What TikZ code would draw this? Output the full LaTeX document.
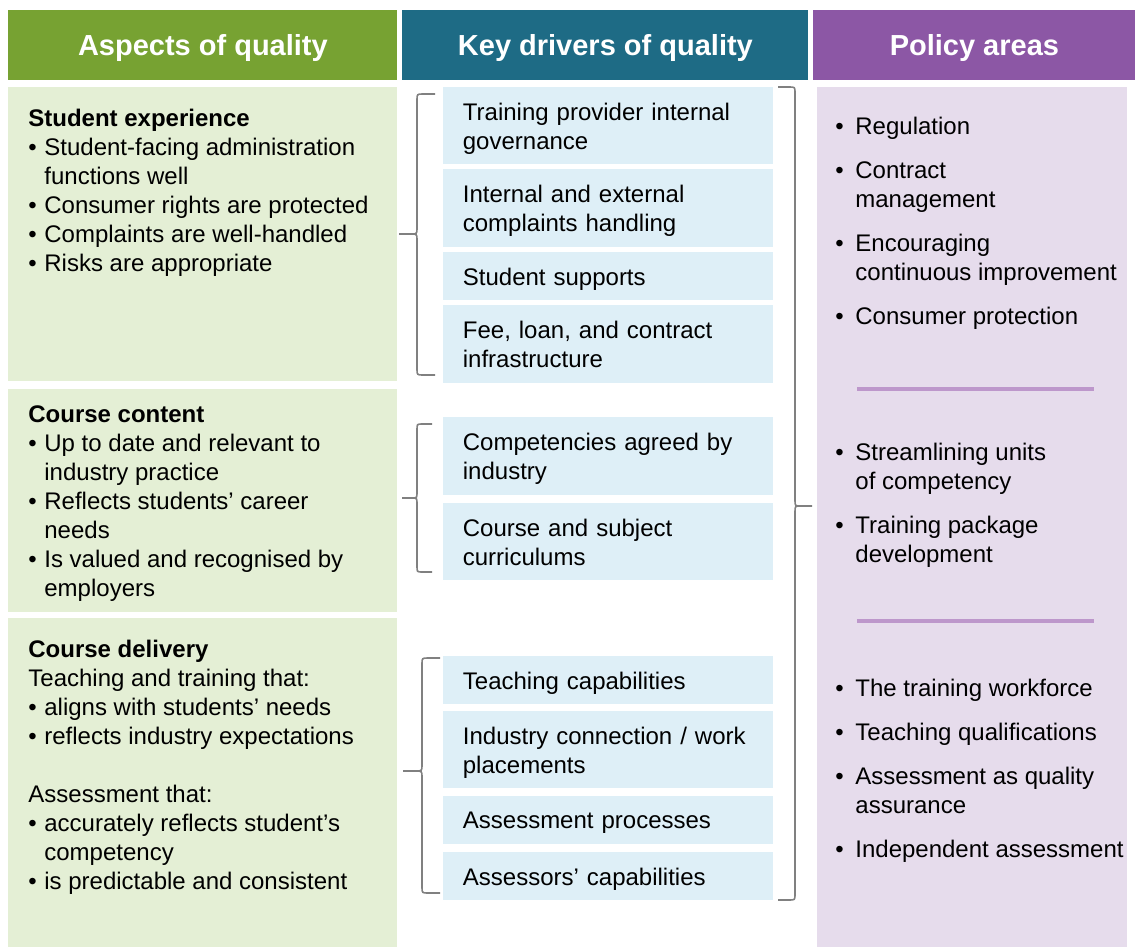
\documentclass[tikz,border=0pt]{standalone}
\usepackage{fontspec}
\setmainfont{Liberation Sans}
\usetikzlibrary{fit}
\definecolor{aspgreen}{HTML}{77A232}
\definecolor{aspfill}{HTML}{E4EFD5}
\definecolor{drvblue}{HTML}{1E6B85}
\definecolor{drvfill}{HTML}{DEEFF7}
\definecolor{polpurple}{HTML}{8C57A5}
\definecolor{polfill}{HTML}{E6DCEC}
\definecolor{polrule}{HTML}{BD97CB}
\definecolor{bracegrey}{HTML}{808080}
\newcommand{\bodyfont}{\fontsize{12}{14.5}\selectfont}
\newcommand{\bul}{\makebox[8pt][l]{\textbullet}}
\newcommand{\ind}{\hspace*{8pt}}
\newcommand{\pbul}{\makebox[10pt][l]{\textbullet}}
\newcommand{\pind}{\hspace*{10pt}}
% ends x, spine x, tip x, top y, tip y, bottom y
\newcommand{\grpbrace}[6]{%
  \draw[brc] (#1,#4) -- ({#2+0.35*(#1-#2)},#4)
    .. controls (#2,#4) .. (#2,{#4+6}) -- (#2,{#5-6})
    .. controls (#2,#5) .. ({#2+0.35*(#3-#2)},#5) -- (#3,#5)
    ({#2+0.35*(#3-#2)},#5) .. controls (#2,#5) .. (#2,{#5+6})
    -- (#2,{#6-6}) .. controls (#2,#6) .. ({#2+0.35*(#1-#2)},#6) -- (#1,#6);}

\begin{document}
\begin{tikzpicture}[x=0.5pt,y=-0.5pt,
  hdr/.style={anchor=north west,inner sep=0,minimum height=35pt,text depth=0pt,
    text=white,font=\bfseries\fontsize{14.5}{17}\selectfont},
  drv/.style={anchor=north west,fill=drvfill,inner xsep=9.75pt,inner ysep=0,
    text width=145.5pt,align=left,font=\bodyfont},
  txt/.style={anchor=north west,inner sep=0,align=left,font=\bodyfont},
  brc/.style={draw=bracegrey,line width=0.8pt},
  rule/.style={draw=polrule,line width=2pt}]
  \useasboundingbox (0,0) rectangle (1135,947);

  % column heads
  \node[hdr,fill=aspgreen,minimum width=194.5pt] (hasp) at (8,10) {Aspects of quality};
  \node[hdr,fill=drvblue,minimum width=203pt] (hdrv) at (402,10) {Key drivers of quality};
  \node[hdr,fill=polpurple,minimum width=161pt] (hpol) at (813,10) {Policy areas};

  % aspects
  \node[fill=aspfill,inner sep=0,fit={(8,87) (397,381)}] (asp1) {};
  \node[fill=aspfill,inner sep=0,fit={(8,389) (397,612)}] (asp2) {};
  \node[fill=aspfill,inner sep=0,fit={(8,618) (397,947)}] (asp3) {};
  \node[txt] (asptxt1) at (28,109) {{\bfseries Student experience}\\
    \bul Student-facing administration\\
    \ind functions well\\
    \bul Consumer rights are protected\\
    \bul Complaints are well-handled\\
    \bul Risks are appropriate};
  \node[txt] (asptxt2) at (28,405) {{\bfseries Course content}\\
    \bul Up to date and relevant to\\
    \ind industry practice\\
    \bul Reflects students’ career\\
    \ind needs\\
    \bul Is valued and recognised by\\
    \ind employers};
  \node[txt] (asptxt3) at (28,640) {{\bfseries Course delivery}\\
    Teaching and training that:\\
    \bul aligns with students’ needs\\
    \bul reflects industry expectations\\[14.5pt]
    Assessment that:\\
    \bul accurately reflects student’s\\
    \ind competency\\
    \bul is predictable and consistent};

  % drivers: name/top/height/depth/text
  \foreach \n/\ya/\h/\tdp/\t in {
      d1/87/38.5/14.5/{Training provider internal\\governance},
      d2/169/39/14.5/{Internal and external\\complaints handling},
      d3/252/24/0/{Student supports},
      d4/305/39/14.5/{Fee, loan, and contract\\infrastructure},
      d5/417/39/14.5/{Competencies agreed by\\industry},
      d6/503/38.5/14.5/{Course and subject\\curriculums},
      d7/656/24/0/{Teaching capabilities},
      d8/711/38.5/14.5/{Industry connection / work\\placements},
      d9/796/24/0/{Assessment processes},
      d10/852/24/0/{Assessors’ capabilities}}
    \node[drv,minimum height=\h pt,text depth=\tdp pt] (\n) at (443,\ya) {\t};

  \grpbrace{435}{417}{399}{94}{234}{375}
  \grpbrace{432}{417}{402}{424}{498}{572}
  \grpbrace{440}{422}{403}{658}{771}{893}
  \grpbrace{778}{795}{812}{87}{506}{900}

  % policy areas
  \node[fill=polfill,inner sep=0,fit={(817,87) (1127,947)}] (pol) {};
  \draw[rule] (857,389) -- (1094,389);
  \draw[rule] (857,621) -- (1094,621);
  \node[txt] (poltxt1) at (835,117) {\pbul Regulation\\[7.5pt]
    \pbul Contract\\
    \pind management\\[7.5pt]
    \pbul Encouraging\\
    \pind continuous improvement\\[7.5pt]
    \pbul Consumer protection};
  \node[txt] (poltxt2) at (835,443) {\pbul Streamlining units\\
    \pind of competency\\[7.5pt]
    \pbul Training package\\
    \pind development};
  \node[txt] (poltxt3) at (835,679) {\pbul The training workforce\\[7.5pt]
    \pbul Teaching qualifications\\[7.5pt]
    \pbul Assessment as quality\\
    \pind assurance\\[7.5pt]
    \pbul Independent assessment};
\end{tikzpicture}
\end{document}
